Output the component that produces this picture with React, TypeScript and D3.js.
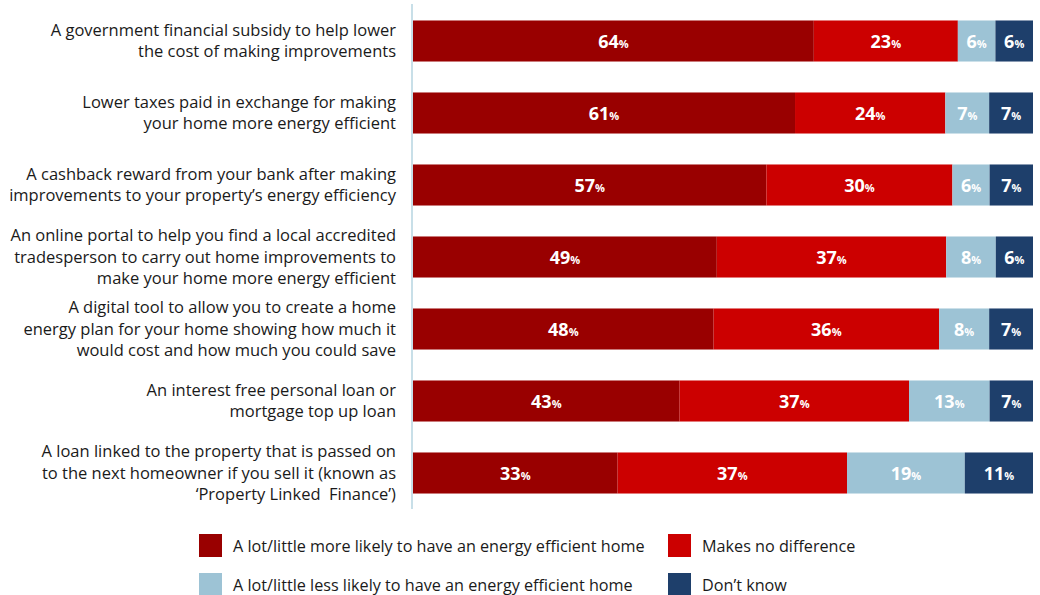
import React from "react";
import * as d3 from "d3";

const categories: string[][] = [
  ["A government financial subsidy to help lower", "the cost of making improvements"],
  ["Lower taxes paid in exchange for making", "your home more energy efficient"],
  ["A cashback reward from your bank after making", "improvements to your property’s energy efficiency"],
  ["An online portal to help you find a local accredited", "tradesperson to carry out home improvements to", "make your home more energy efficient"],
  ["A digital tool to allow you to create a home", "energy plan for your home showing how much it", "would cost and how much you could save"],
  ["An interest free personal loan or", "mortgage top up loan"],
  ["A loan linked to the property that is passed on", "to the next homeowner if you sell it (known as", "‘Property Linked  Finance’)"],
];

const moreLikely = [64, 61, 57, 49, 48, 43, 33];
const noDifference = [23, 24, 30, 37, 36, 37, 37];
const lessLikely = [6, 7, 6, 8, 8, 13, 19];
const dontKnow = [6, 7, 7, 6, 7, 7, 11];

const seriesNames = [
  "A lot/little more likely to have an energy efficient home",
  "Makes no difference",
  "A lot/little less likely to have an energy efficient home",
  "Don’t know",
];
const colors = ["#990000", "#cc0000", "#9dc3d5", "#1e3f6b"];

const W = 1040;
const H = 595;
const FONT = "'Open Sans', sans-serif";

export default function App() {
  const series = [moreLikely, noDifference, lessLikely, dontKnow];
  const idx = categories.map((_, i) => i);
  const y = d3.scaleBand<number>().domain(idx).range([5, 509]).paddingInner(0.43).paddingOuter(0.215);
  const x0 = 413;
  const x1 = 1033;

  return (
    <svg width={W} height={H} style={{ position: "absolute", left: 0, top: 0, background: "#fff" }} fontFamily={FONT}>
      {idx.map((i) => {
        const vals = series.map((s) => s[i]);
        const total = d3.sum(vals);
        const x = d3.scaleLinear().domain([0, total]).range([x0, x1]);
        let acc = 0;
        const by = y(i)!;
        const bh = y.bandwidth();
        const cy = by + bh / 2;
        const lines = categories[i];
        const lh = 21.5;
        return (
          <g key={i}>
            {vals.map((v, k) => {
              const start = acc;
              acc += v;
              const xs = x(start);
              const xe = x(acc);
              return (
                <g key={k}>
                  <rect x={xs} y={by} width={xe - xs} height={bh} fill={colors[k]} />
                  <text
                    x={(xs + xe) / 2}
                    y={cy + 6.5}
                    textAnchor="middle"
                    fill="#fff"
                    fontWeight={700}
                    fontSize={18}
                  >
                    {v}
                    <tspan fontSize={11}>%</tspan>
                  </text>
                </g>
              );
            })}
            <text textAnchor="end" fill="#1a1a1a" fontSize={16.5} style={{ whiteSpace: "pre" }}>
              {lines.map((l, j) => (
                <tspan key={j} x={396} y={cy - ((lines.length - 1) * lh) / 2 + j * lh + 5.5}>
                  {l}
                </tspan>
              ))}
            </text>
          </g>
        );
      })}
      <line x1={412} x2={412} y1={4} y2={509} stroke="#c8dfe8" strokeWidth={2} />
      {seriesNames.map((n, k) => {
        const col = k % 2;
        const row = Math.floor(k / 2);
        const lx = col === 0 ? 199 : 668;
        const ly = 534 + row * 39;
        return (
          <g key={k}>
            <rect x={lx} y={ly} width={23} height={23} fill={colors[k]} />
            <text x={lx + 34} y={ly + 18} fontSize={16.2} fill="#1a1a1a">
              {n}
            </text>
          </g>
        );
      })}
    </svg>
  );
}
